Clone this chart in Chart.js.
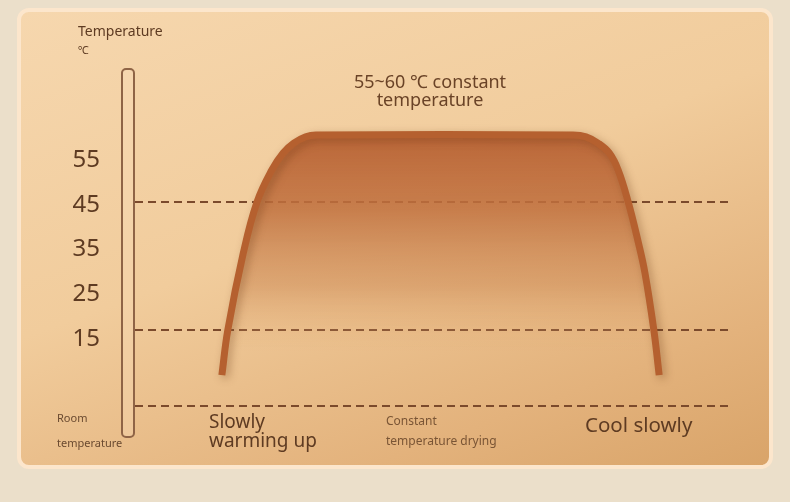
<!DOCTYPE html>
<html>
<head>
<meta charset="utf-8">
<script src="https://cdn.jsdelivr.net/npm/chart.js@4"></script>
<style>
  html, body { margin: 0; padding: 0; }
  body { width: 790px; height: 502px; background: #ebdfca; position: relative; overflow: hidden;
         font-family: "Noto Sans", sans-serif; }
  #panel { position: absolute; left: 17px; top: 8px; width: 748px; height: 453px;
           border: 4px solid #fce6cc; border-radius: 12px;
           background: linear-gradient(160deg, #f6d7ae 0%, #f1cc9c 45%, #e3b27c 80%, #d9a469 100%); }
  #bar { position: absolute; left: 121px; top: 68px; width: 10px; height: 366px;
         border: 2px solid #8f6446; border-radius: 5px; background: rgba(250,222,186,0.35); }
  #wrap { position: absolute; left: 0; top: 0; width: 790px; height: 502px; }
  .t { position: absolute; color: #5e3b22; white-space: nowrap; line-height: 1; }
</style>
</head>
<body>
<div id="panel"></div>
<div id="bar"></div>
<div id="wrap"><canvas id="tempChart" width="790" height="502"></canvas></div>

<div class="t" style="left:78px; top:24px; font-size:14px;">Temperature</div>
<div class="t" style="left:78px; top:44px; font-size:11px;">℃</div>
<div class="t" style="left:320px; top:72px; width:220px; text-align:center; font-size:18px; color:#6a4327;">55~60 ℃ constant</div>
<div class="t" style="left:320px; top:90px; width:220px; text-align:center; font-size:18px; color:#6a4327;">temperature</div>
<div class="t" style="left:57px; top:412px; font-size:11px; color:#6a4a30;">Room</div>
<div class="t" style="left:57px; top:437px; font-size:11px; color:#6a4a30;">temperature</div>
<div class="t" style="left:209px; top:412px; font-size:19px;">Slowly</div>
<div class="t" style="left:209px; top:431px; font-size:19px;">warming up</div>
<div class="t" style="left:386px; top:415px; font-size:12px; color:#7a5535;">Constant</div>
<div class="t" style="left:386px; top:435px; font-size:12px; color:#7a5535;">temperature drying</div>
<div class="t" style="left:585px; top:414px; font-size:20.5px;">Cool slowly</div>

<script>
// Кривая температуры (время в % цикла, температура в °C)
const curveX = [14.6, 15.6, 18.2, 20.5, 23.0, 24.9, 26.7, 28.7, 30.4,
                73.6, 75.8, 77.8, 79.7, 81.2, 82.9, 84.5, 85.7, 87.2, 88.1];
const curveY = [6.9, 17.0, 34.2, 45.6, 52.8, 56.6, 58.8, 60.2, 60.6,
                60.6, 60.2, 58.8, 56.6, 52.8, 45.6, 37.1, 29.8, 17.0, 6.9];

// Пунктирные уровни: 45+, 15+, комнатная
const refLevels = [45.6, 17, 0];

// Подписи оси Y
const yTicks = [15, 25, 35, 45, 55];

const curvePoints = curveX.map((x, i) => ({ x, y: curveY[i] }));

const refDatasets = refLevels.map(level => ({
  data: [{ x: 0, y: level }, { x: 100, y: level }],
  borderColor: "#7b4a2c",
  borderWidth: 2,
  borderDash: [8, 5],
  pointRadius: 0,
  fill: false,
  clip: 4,
  order: 2
}));

// Тень под кривой (только для линии, заливка рисуется раньше)
const curveShadow = {
  id: "curveShadow",
  beforeDatasetDraw(chart, args) {
    if (args.index !== 0) return;
    const c = chart.ctx;
    c.save();
    c.shadowColor = "rgba(95,45,15,0.35)";
    c.shadowBlur = 8;
    c.shadowOffsetX = 3;
    c.shadowOffsetY = 3;
  },
  afterDatasetDraw(chart, args) {
    if (args.index !== 0) return;
    chart.ctx.restore();
  }
};

const ctx = document.getElementById("tempChart").getContext("2d");

new Chart(ctx, {
  type: "line",
  data: {
    datasets: [
      {
        data: curvePoints,
        borderColor: "#b5602f",
        borderWidth: 7,
        borderCapStyle: "butt",
        tension: 0.4,
        pointRadius: 0,
        fill: "origin",
        backgroundColor: context => {
          const area = context.chart.chartArea;
          if (!area) return "rgba(185,100,55,0.8)";
          const g = context.chart.ctx.createLinearGradient(0, area.top + 40, 0, area.bottom - 55);
          g.addColorStop(0, "rgba(183,96,50,0.95)");
          g.addColorStop(0.35, "rgba(192,112,62,0.85)");
          g.addColorStop(0.7, "rgba(205,138,85,0.55)");
          g.addColorStop(1, "rgba(230,175,120,0)");
          return g;
        },
        order: 1
      },
      ...refDatasets
    ]
  },
  options: {
    responsive: false,
    maintainAspectRatio: false,
    animation: false,
    layout: { padding: { left: 0, right: 60, top: 93, bottom: 96 } },
    plugins: { legend: { display: false }, tooltip: { enabled: false } },
    scales: {
      x: { type: "linear", min: 0, max: 100, display: false },
      y: {
        type: "linear",
        min: 0,
        max: 70,
        afterBuildTicks: scale => { scale.ticks = yTicks.map(v => ({ value: v })); },
        afterFit: scale => { scale.width = 135; },
        grid: { display: false, drawTicks: false },
        border: { display: false },
        ticks: {
          padding: 35,
          color: "#5e3b22",
          font: { family: "Noto Sans", size: 24 }
        }
      }
    }
  },
  plugins: [curveShadow]
});
</script>
</body>
</html>
